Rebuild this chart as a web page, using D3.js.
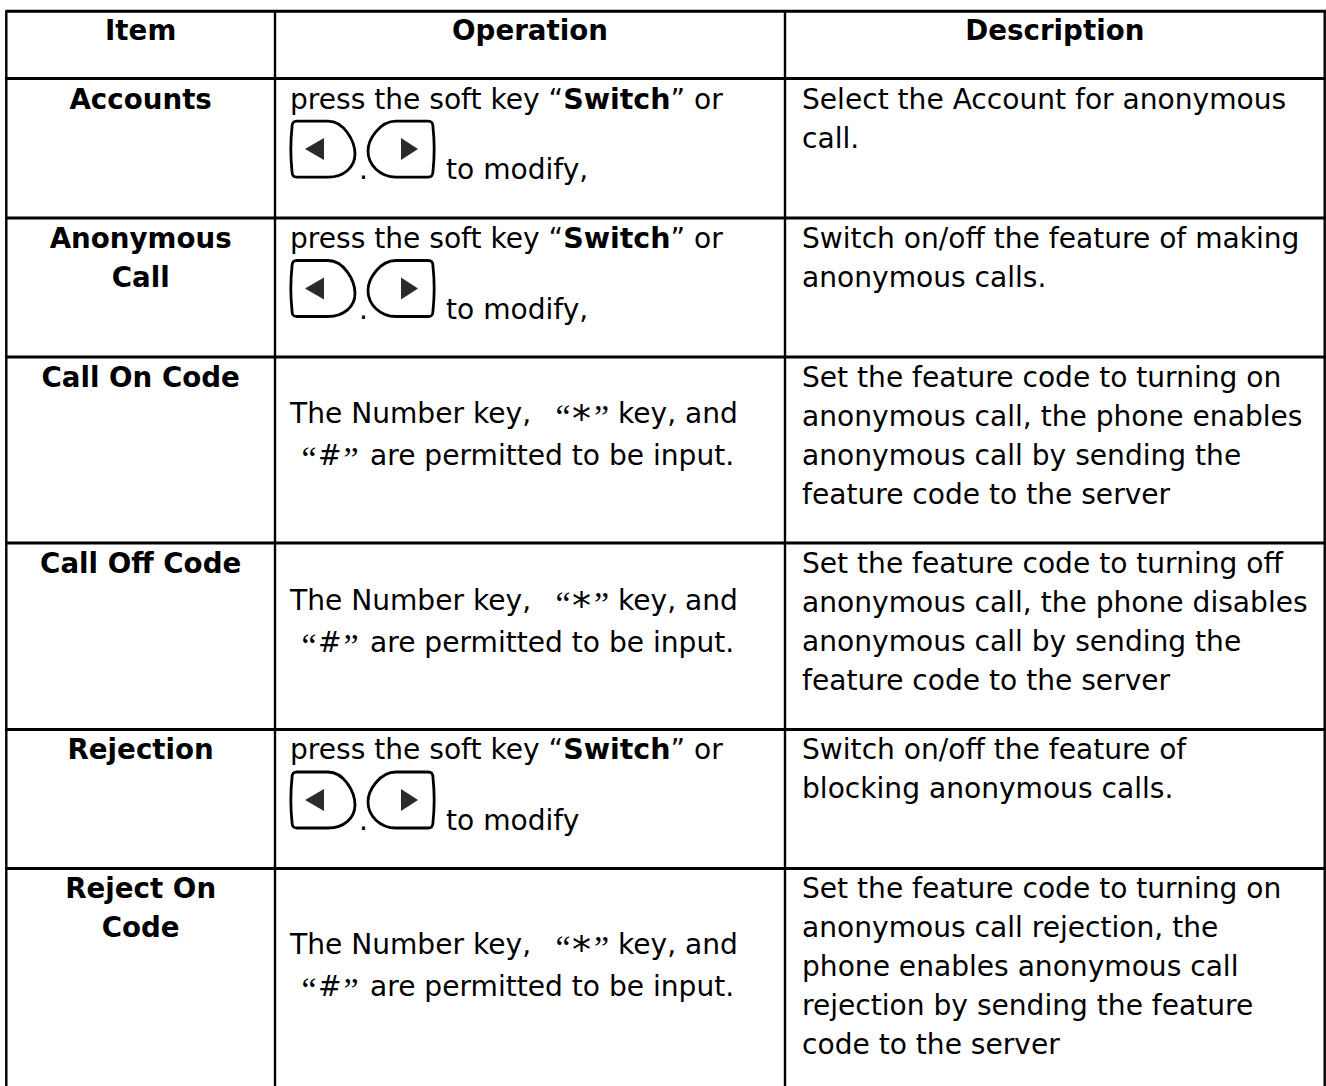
<!DOCTYPE html>
<html><head><meta charset="utf-8">
<script src="https://cdn.jsdelivr.net/npm/d3@7"></script>
<style>html,body{margin:0;background:#fff}svg{display:block}text{font-family:"DejaVu Sans",Verdana,sans-serif;font-size:28.1px;fill:#000}.b{font-weight:bold;font-size:27.7px}tspan.b{font-size:28.5px}.q{font-family:"Liberation Serif",serif;font-size:34px}</style>
</head><body><svg id="c" width="1326" height="1086"></svg>
<script>
const columnHeads=["Item","Operation","Description"];
const items=[["Accounts"],["Anonymous","Call"],["Call On Code"],["Call Off Code"],["Rejection"],["Reject On","Code"]];
const switchOps=[0,1,4];
const opEnds=["to modify,","to modify,",null,null,"to modify",null];
const descriptions=[
["Select the Account for anonymous","call."],
["Switch on/off the feature of making","anonymous calls."],
["Set the feature code to turning on","anonymous call, the phone enables","anonymous call by sending the","feature code to the server"],
["Set the feature code to turning off","anonymous call, the phone disables","anonymous call by sending the","feature code to the server"],
["Switch on/off the feature of","blocking anonymous calls."],
["Set the feature code to turning on","anonymous call rejection, the","phone enables anonymous call","rejection by sending the feature","code to the server"]];
const colEdges=[6.3,275,785,1324.7];
const rowEdges=[11.3,78.6,218,357,543,729.5,868.5,1090];
const numOffsets=[null,null,66,67,null,85];
const svg=d3.select("#c");
const lh=39;
const base=29.95;
const line=(x1,y1,x2,y2,w)=>svg.append("line").attr("x1",x1).attr("y1",y1).attr("x2",x2).attr("y2",y2).attr("stroke","#000").attr("stroke-width",w);
rowEdges.slice(0,-1).forEach(y=>line(colEdges[0]-1,y,1326,y,3));
colEdges.forEach(x=>line(x,rowEdges[0],x,1086,2.4));
const txt=(s,x,y,a,c)=>svg.append("text").attr("x",x).attr("y",y).attr("text-anchor",a||"start").attr("class",c||null).text(s);
columnHeads.forEach((h,i)=>txt(h,(colEdges[i]+colEdges[i+1])/2,rowEdges[0]+28.7,"middle","b"));
items.forEach((it,r)=>it.forEach((s,i)=>txt(s,(colEdges[0]+colEdges[1])/2,rowEdges[r+1]+base+i*lh,"middle","b")));
descriptions.forEach((d,r)=>d.forEach((s,i)=>txt(s,802,rowEdges[r+1]+base+i*lh)));
function key(x,y,dir){
  const g=svg.append("g").attr("transform",`translate(${x},${y})`);
  const p=dir<0?"M6,0H37C53,0 64,20 64,33C64,46 53,56 37,56H6C2,56 1,54 1,50C-0.5,36 -0.5,20 1,6C1,2 2,0 6,0Z"
               :"M60,0H28C12,0 0,18 0,30C0,44 12,56 28,56H60C64,56 65,54 65,50C66.5,36 66.5,20 65,6C65,2 64,0 60,0Z";
  g.append("path").attr("d",p).attr("fill","#fff").attr("stroke","#000").attr("stroke-width",2.8);
  const t=dir<0?"M14,28L33,17V39Z":"M50,28L33,17V39Z";
  g.append("path").attr("d",t).attr("fill","#2a2a2a");
}
items.forEach((_,r)=>{
  const y=rowEdges[r+1];
  if(switchOps.includes(r)){
    const t=svg.append("text").attr("x",290).attr("y",y+base);
    t.append("tspan").text("press the soft key \u201c");
    t.append("tspan").attr("class","b").text("Switch");
    t.append("tspan").text("\u201d or");
    key(291,y+42.5,-1);txt(".",359,y+100.5);key(368,y+42.5,1);
    txt(opEnds[r],446,y+100.5);
  } else {
    const b=y+numOffsets[r];
    txt("The Number key,",290,b);
    txt("\u201c",555.5,b+5,"start","q");
    txt("*",572,b+9).style("font-size","38px");
    txt("\u201d",594,b+5,"start","q");
    txt("key, and",618,b);
    txt("\u201c",301.5,b+47,"start","q");
    txt("#",318,b+42);
    txt("\u201d",343.5,b+47,"start","q");
    txt("are permitted to be input.",370,b+42);
  }
});
</script></body></html>
